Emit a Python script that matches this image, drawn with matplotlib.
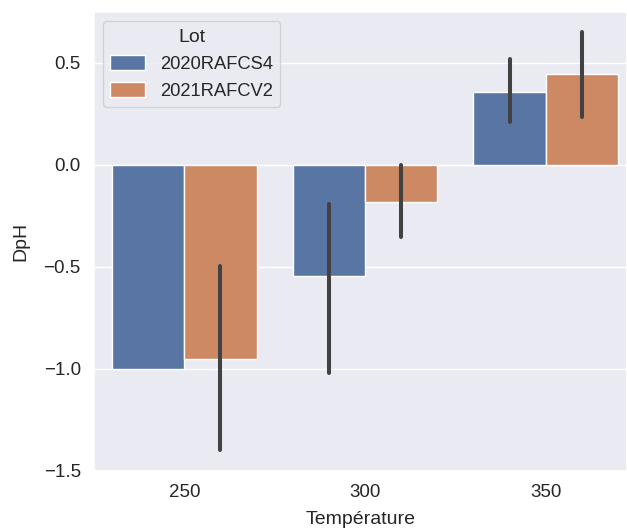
import matplotlib
matplotlib.use("Agg")
import matplotlib.pyplot as plt
import numpy as np
import seaborn as sns

temperatures = ["250", "300", "350"]
lots = ["2020RAFCS4", "2021RAFCV2"]
means_2020 = [-1.00, -0.545, 0.36]
low_2020 = [np.nan, -1.02, 0.21]
high_2020 = [np.nan, -0.19, 0.52]
means_2021 = [-0.95, -0.18, 0.445]
low_2021 = [-1.40, -0.355, 0.235]
high_2021 = [-0.495, 0.00, 0.65]
colors = ["#5975A4", "#CC8963"]

sns.set_theme(style="darkgrid")
plt.rcParams['font.family'] = ['Liberation Sans', 'DejaVu Sans']

fig = plt.figure(figsize=(6.27, 5.29), dpi=100)
ax = fig.add_axes([94/627, 1 - 470.7/529, 1 - 94/627, (470.7 - 12)/529])

x = np.arange(len(temperatures))
w = 0.4
series = [(means_2020, low_2020, high_2020), (means_2021, low_2021, high_2021)]
for i, (m, lo, hi) in enumerate(series):
    xs = x - 0.2 + i * w
    ax.bar(xs, m, width=w, color=colors[i], edgecolor="white", linewidth=1,
           label=lots[i], zorder=2)
    for xi, l, h in zip(xs, lo, hi):
        if not np.isnan(l):
            ax.plot([xi, xi], [l, h], color="#424242", lw=2.9,
                    solid_capstyle="round", zorder=3)

ax.set_xticks(x)
ax.set_xticklabels(temperatures)
ax.set_xlim(-0.5, 2.45)
ax.set_ylim(-1.5, 0.75)
ax.set_yticks([-1.5, -1.0, -0.5, 0.0, 0.5])
ax.grid(False, axis="x")
ax.tick_params(axis="both", labelsize=13.5, colors="#262626")
ax.set_xlabel("Température", fontsize=14, color="#262626", labelpad=7)
ax.set_ylabel("DpH", fontsize=14, color="#262626", labelpad=10)

leg = ax.legend(title="Lot", loc="upper left", fontsize=13.2, title_fontsize=14,
                handlelength=1.9, handleheight=0.9, borderaxespad=0.5)

fig.savefig("out.png", dpi=100)
